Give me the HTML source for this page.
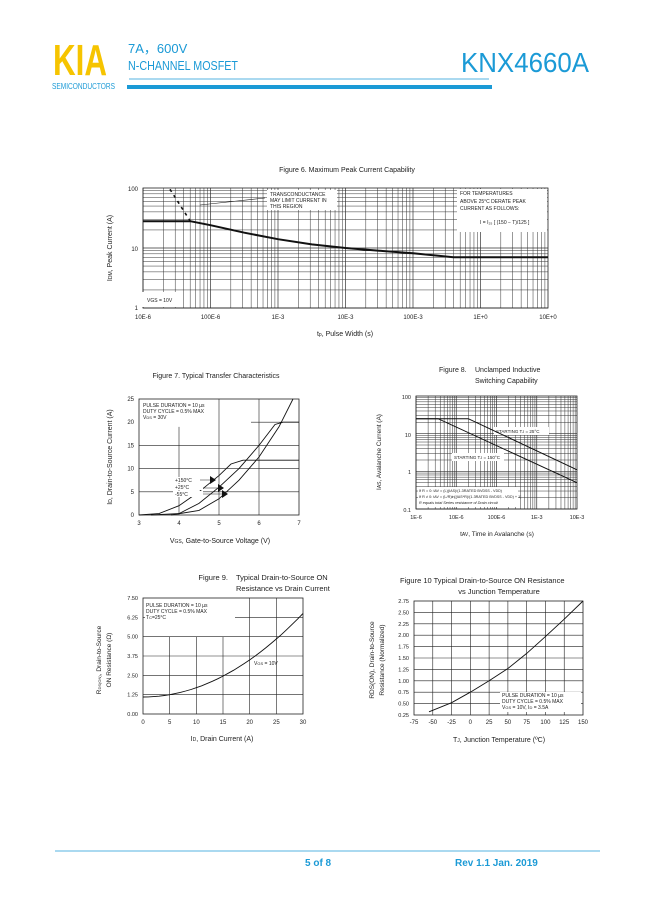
<!DOCTYPE html>
<html><head><meta charset="utf-8"><style>
html,body{margin:0;padding:0;background:#fff;}
svg{display:block;font-family:"Liberation Sans",Arial,sans-serif;}
</style></head><body>
<svg id="s" width="649" height="917" viewBox="0 0 649 917" xmlns="http://www.w3.org/2000/svg">
<rect width="649" height="917" fill="#fff"/>
<!-- header -->
<text x="53" y="75" font-size="44" font-weight="bold" fill="#f6c400" textLength="54" lengthAdjust="spacingAndGlyphs">KIA</text>
<text x="52" y="89" font-size="8" fill="#1b9ad6" textLength="63" lengthAdjust="spacingAndGlyphs">SEMICONDUCTORS</text>
<text x="128" y="53" font-size="13" fill="#1b9ad6">7A，600V</text>
<text x="128" y="70" font-size="13" fill="#1b9ad6" textLength="110" lengthAdjust="spacingAndGlyphs">N-CHANNEL MOSFET</text>
<text x="461" y="72" font-size="28" fill="#1b9ad6" textLength="128" lengthAdjust="spacingAndGlyphs">KNX4660A</text>
<line x1="129" y1="79" x2="489" y2="79" stroke="#1b9ad6" stroke-width="0.7"/>
<rect x="127" y="85" width="365" height="4" fill="#1b9ad6"/>
<!-- footer -->
<line x1="55" y1="851" x2="600" y2="851" stroke="#1b9ad6" stroke-width="0.8"/>
<text x="305" y="866" font-size="10" font-weight="bold" fill="#1b9ad6">5 of 8</text>
<text x="455" y="866" font-size="10" font-weight="bold" fill="#1b9ad6">Rev 1.1 Jan. 2019</text>
<g id="g"></g>
</svg>
<script>
var G=document.getElementById('g'),o='';
function L(x1,y1,x2,y2,w,c,d){o+='<line x1="'+x1+'" y1="'+y1+'" x2="'+x2+'" y2="'+y2+'" stroke="'+(c||'#222')+'" stroke-width="'+(w||0.6)+'"'+(d?' stroke-dasharray="'+d+'"':'')+'/>';}
function T(x,y,s,f,a,extra){o+='<text x="'+x+'" y="'+y+'" font-size="'+f+'" fill="#222"'+(a?' text-anchor="'+a+'"':'')+(extra||'')+'>'+s+'</text>';}
function P(pts,w,d){o+='<polyline fill="none" stroke="#111" stroke-width="'+(w||1)+'"'+(d?' stroke-dasharray="'+d+'"':'')+' points="'+pts.map(p=>p[0].toFixed(1)+','+p[1].toFixed(1)).join(' ')+'"/>';}
function R(x,y,w,h){o+='<rect x="'+x+'" y="'+y+'" width="'+w+'" height="'+h+'" fill="#fff"/>';}
function logGrid(x0,x1,y0,y1,nx,ny){
 var dx=(x1-x0)/nx,dy=(y1-y0)/ny;
 for(var i=0;i<nx;i++)for(var k=1;k<=9;k++){var x=x0+dx*(i+Math.log10(k));L(x,y0,x,y1,k==1?0.7:0.5,'#333');}
 for(var i=0;i<ny;i++)for(var k=1;k<=9;k++){var y=y1-dy*(i+Math.log10(k));L(x0,y,x1,y,k==1?0.7:0.5,'#333');}
 o+='<rect x="'+x0+'" y="'+y0+'" width="'+(x1-x0)+'" height="'+(y1-y0)+'" fill="none" stroke="#222" stroke-width="0.8"/>';
}
// Figure 6
T(347,172,'Figure 6. Maximum Peak Current Capability',7,'middle');
logGrid(143,548,188,308,6,2);
R(267,190,70,20);R(457,189,90,43);R(141,292,42,15);
T(270,196,'TRANSCONDUCTANCE',5);T(270,202,'MAY LIMIT CURRENT IN',5);T(270,208,'THIS REGION',5);
T(460,195,'FOR TEMPERATURES',5);T(460,203,'ABOVE 25°C DERATE PEAK',5);T(460,210,'CURRENT AS FOLLOWS:',5);
T(480,224,'I = I₂₅ [ (150 − T)/125 ]',5);
T(147,302,'VGS = 10V',5);
L(200,205,265,198,0.6);
function f6(lt,I){return [143+(lt+5)*67.5,308-60*Math.log10(I)];}
P([[-5,28],[-4.3,28],[-4,24],[-3.5,18],[-3,14],[-2.5,11.5],[-2,10],[-1.5,9],[-1,8.2],[-0.4,7],[1,7]].map(p=>f6(p[0],p[1])),2);
P([f6(-4.6,95),f6(-4.3,28)],1.6,'3,4');
T(138,191,'100',6,'end');T(138,251,'10',6,'end');T(138,310,'1',6,'end');
['10E-6','100E-6','1E-3','10E-3','100E-3','1E+0','10E+0'].forEach((s,i)=>T(143+67.5*i,319,s,6,'middle'));
T(345,336,'t<tspan font-size="5">p</tspan>, Pulse Width (s)',7,'middle');
T(112,248,'I<tspan font-size="5">DM</tspan>, Peak Current (A)',7,'middle',' transform="rotate(-90 112 248)"');
// Figure 7
T(216,378,'Figure 7. Typical Transfer Characteristics',7,'middle');
var x0=139,x1=299,y0=399,y1=515;
function f7(v,i){return [x0+(v-3)*40,y1-i*(116/25)];}
[[4,19],[5,25],[6,25]].forEach(a=>{var p=f7(a[0],0),q=f7(a[0],a[1]);L(p[0],p[1],q[0],q[1],0.6);});
[5,10,15].forEach(i=>{var p=f7(3,i),q=f7(7,i);L(p[0],p[1],q[0],q[1],0.6);});
var p=f7(5.8,20),q=f7(7,20);L(p[0],p[1],q[0],q[1],0.6);
o+='<rect x="139" y="399" width="160" height="116" fill="none" stroke="#222" stroke-width="0.8"/>';
R(141,401,68,20);
T(143,407,'PULSE DURATION = 10 µs',5);T(143,413,'DUTY CYCLE = 0.5% MAX',5);T(143,419,'V<tspan font-size="4">DS</tspan> = 30V',5);
P([[3,0],[3.5,0.3],[4,2],[4.5,5],[5,8.5],[5.3,11],[5.6,11.8],[7,11.8]].map(p=>f7(p[0],p[1])),0.9);
P([[3.3,0],[4,0.3],[4.5,2.5],[5,6],[5.5,10],[6,15],[6.4,19.5],[6.6,20],[7,20]].map(p=>f7(p[0],p[1])),0.9);
P([[3.8,0],[4.5,1],[5,3.5],[5.5,7.5],[6,12.5],[6.5,19],[6.85,25]].map(p=>f7(p[0],p[1])),0.9);
R(173,477,28,6);R(173,484,30,6);R(173,491,30,6);
T(175,482,'+150°C',5);T(175,489,'+25°C',5);T(175,496,'-55°C',5);
L(200,480,210,480,0.5);L(203,488,218,488,0.5);L(203,494,222,494,0.5);
o+='<polygon points="210,476 216,480 210,484" fill="#111"/><polygon points="218,484 224,488 218,492" fill="#111"/><polygon points="222,490 228,494 222,498" fill="#111"/>';
[0,5,10,15,20,25].forEach(i=>{var p=f7(3,i);T(134,p[1]+2,i,6,'end');});
[3,4,5,6,7].forEach(v=>{var p=f7(v,0);T(p[0],525,v,6,'middle');});
T(220,543,'V<tspan font-size="5">GS</tspan>, Gate-to-Source Voltage (V)',7,'middle');
T(112,457,'I<tspan font-size="5">D</tspan>, Drain-to-Source Current (A)',7,'middle',' transform="rotate(-90 112 457)"');
// Figure 8
T(439,372,'Figure 8.',7);T(475,372,'Unclamped Inductive',7);T(475,383,'Switching Capability',7);
logGrid(416,577,396,509,4,3);
function f8(lt,I){return [416+(lt+6)*40.25,509-37.67*(Math.log10(I)+1)];}
R(494,427,55,8);R(452,453,52,8);R(418,487,100,20);
T(496,433,'STARTING T<tspan font-size="4">J</tspan> = 25°C',4.5);
T(454,459,'STARTING T<tspan font-size="4">J</tspan> = 150°C',4.5);
T(419,492,'If R = 0: t<tspan font-size="3.5">AV</tspan> = (L)(I<tspan font-size="3.5">AS</tspan>)/(1.3RATED BV<tspan font-size="3.5">DSS</tspan> - V<tspan font-size="3.5">DD</tspan>)',3.8);
T(419,498,'If R ≠ 0: t<tspan font-size="3.5">AV</tspan> = (L/R)ln[(I<tspan font-size="3.5">AS</tspan>*R)/(1.3RATED BV<tspan font-size="3.5">DSS</tspan> - V<tspan font-size="3.5">DD</tspan>) + 1]',3.8);
T(419,504,'R equals total Series resistance of Drain circuit',3.8,null,' font-style="italic"');
P([f8(-6,25),f8(-4.7,25),f8(-2,1.1)],1);
P([f8(-6,25),f8(-5.45,25),f8(-2,0.5)],1);
T(411,399,'100',5.5,'end');T(411,437,'10',5.5,'end');T(411,474,'1',5.5,'end');T(411,512,'0.1',5.5,'end');
['1E-6','10E-6','100E-6','1E-3','10E-3'].forEach((s,i)=>T(416+40.25*i,519,s,5.5,'middle'));
T(497,536,'t<tspan font-size="5">AV</tspan>, Time in Avalanche (s)',6.5,'middle');
T(381,452,'I<tspan font-size="5">AS</tspan>, Avalanche Current (A)',6.5,'middle',' transform="rotate(-90 381 452)"');
// Figure 9
T(228,580,'Figure 9.',7.5,'end');T(236,580,'Typical Drain-to-Source ON',7.5);T(236,591,'Resistance vs Drain Current',7.5);
x0=143;x1=303;y0=598;y1=714;
function f9(i,r){return [x0+i*(160/30),y1-r*(116/7.5)];}
[5,10,15].forEach(i=>{var p=f9(i,0),q=f9(i,5);L(p[0],p[1],q[0],q[1],0.6);});
[20,25].forEach(i=>{var p=f9(i,0),q=f9(i,7.5);L(p[0],p[1],q[0],q[1],0.6);});
[1.25,2.5,3.75,5,6.25].forEach(r=>{var p=f9(0,r),q=f9(30,r);L(p[0],p[1],q[0],q[1],0.6);});
o+='<rect x="143" y="598" width="160" height="116" fill="none" stroke="#222" stroke-width="0.8"/>';
R(145,600,90,20);
T(146,607,'PULSE DURATION = 10 µs',5);T(146,613,'DUTY CYCLE = 0.5% MAX',5);T(146,619,'T<tspan font-size="4">C</tspan>=25°C',5);
R(253,658,22,10);T(254,665,'V<tspan font-size="4">GS</tspan> = 10V',5);
var pts=[];for(var i=0;i<=30;i+=1)pts.push(f9(i,1.1+0.006*i*i));P(pts,0.9);
['0.00','1.25','2.50','3.75','5.00','6.25','7.50'].forEach((s,k)=>{var p=f9(0,k*1.25);T(138,p[1]+2,s,5.5,'end');});
[0,5,10,15,20,25,30].forEach(i=>{var p=f9(i,0);T(p[0],724,i,6,'middle');});
T(222,741,'I<tspan font-size="5">D</tspan>, Drain Current (A)',7,'middle');
T(101,660,'R<tspan font-size="4">DS(ON)</tspan>, Drain-to-Source',6.5,'middle',' transform="rotate(-90 101 660)"');
T(111,660,'ON Resistance (Ω)',6.5,'middle',' transform="rotate(-90 111 660)"');
// Figure 10
T(400,583,'Figure 10   Typical Drain-to-Source ON Resistance',7.5);T(499,594,'vs Junction Temperature',7.5,'middle');
x0=414;x1=583;y0=601;y1=715;
function f10(t,r){return [x0+(t+75)*(169/225),y1-(r-0.25)*(114/2.5)];}
for(var t=-50;t<=125;t+=25){var p=f10(t,0.25),q=f10(t,2.75);L(p[0],p[1],q[0],q[1],0.6);}
for(var r=0.5;r<2.75;r+=0.25){var p=f10(-75,r),q=f10(150,r);L(p[0],p[1],q[0],q[1],0.6);}
o+='<rect x="414" y="601" width="169" height="114" fill="none" stroke="#222" stroke-width="0.8"/>';
R(500,692,81,20);
T(502,697,'PULSE DURATION = 10 µs',5);T(502,703,'DUTY CYCLE = 0.5% MAX',5);T(502,709,'V<tspan font-size="4">GS</tspan> = 10V, I<tspan font-size="4">D</tspan> = 3.5A',5);
P([[-55,.32],[-25,.52],[0,.75],[25,1.0],[50,1.27],[75,1.6],[100,1.97],[125,2.35],[150,2.75]].map(p=>f10(p[0],p[1])),0.9);
for(var k=0;k<=10;k++){var r=0.25+k*0.25;var p=f10(-75,r);T(409,p[1]+2,r.toFixed(2),5.5,'end');}
for(var t=-75;t<=150;t+=25){var p=f10(t,0.25);T(p[0],724,t,6,'middle');}
T(499,742,'T<tspan font-size="5">J</tspan>, Junction Temperature (ºC)',7,'middle');
T(374,660,'RDS(ON), Drain-to-Source',6.5,'middle',' transform="rotate(-90 374 660)"');
T(384,660,'Resistance (Normalized)',6.5,'middle',' transform="rotate(-90 384 660)"');
G.innerHTML=o;
</script>
</body></html>
